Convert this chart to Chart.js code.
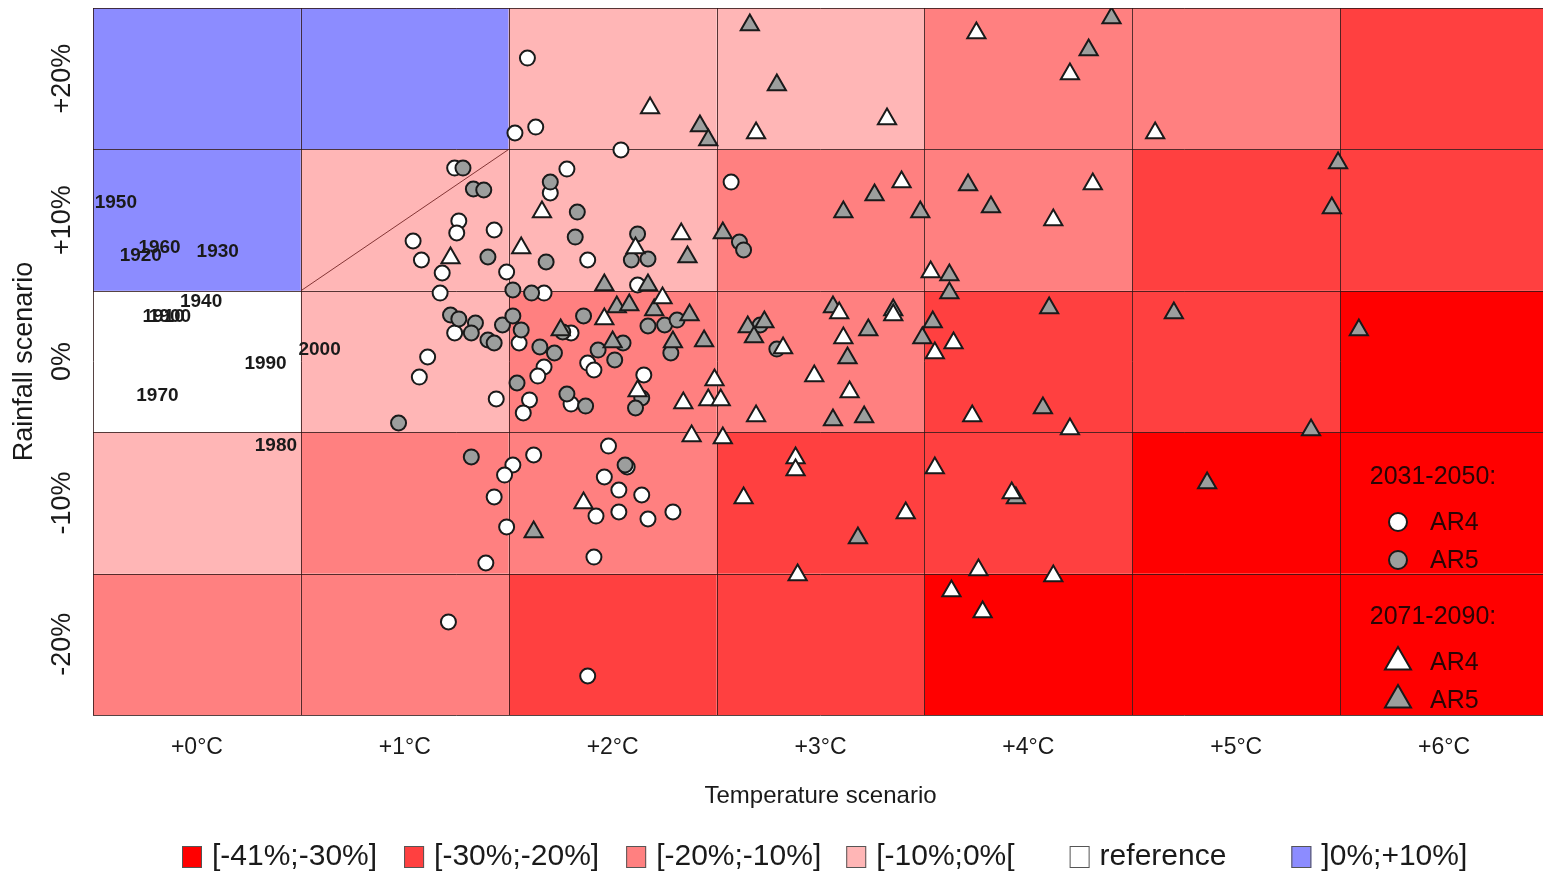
<!DOCTYPE html>
<html>
<head>
<meta charset="utf-8">
<script src="https://cdn.jsdelivr.net/npm/chart.js@4.4.0/dist/chart.umd.min.js"></script>
<style>
  html, body { margin: 0; padding: 0; background: #fff; overflow: hidden; }
  #wrap { width: 1548px; height: 877px; position: relative; }
</style>
</head>
<body>
<div id="wrap"><canvas id="chart"></canvas></div>
<script>
// axes
const tempSteps = [0, 1, 2, 3, 4, 5, 6];
const tempLabels = ['+0°C', '+1°C', '+2°C', '+3°C', '+4°C', '+5°C', '+6°C'];
const rainSteps = [-20, -10, 0, 10, 20];
const rainLabels = ['-20%', '-10%', '0%', '+10%', '+20%'];

// yield change class of each cell, rows follow rainSteps, columns follow tempSteps
const classLabels = ['[-41%;-30%]', '[-30%;-20%]', '[-20%;-10%]', '[-10%;0%[', 'reference', ']0%;+10%]'];
const classColors = ['#ff0000', '#ff4040', '#ff8080', '#ffb6b6', '#ffffff', '#8c8cff'];
const yieldClass = [
  [2, 2, 1, 1, 0, 0, 0],
  [3, 2, 2, 1, 1, 0, 0],
  [4, 3, 2, 2, 1, 1, 0],
  [5, 3, 3, 2, 2, 1, 1],
  [5, 5, 3, 3, 2, 2, 1]
];

// observed decades
const histYears = ['1950', '1920', '1960', '1930', '1940', '1910', '1900', '2000', '1990', '1970', '1980'];
const histTemp = [-0.39, -0.27, -0.18, 0.10, 0.02, -0.16, -0.13, 0.59, 0.33, -0.19, 0.38];
const histRain = [11.21, 7.46, 8.03, 7.74, 4.21, 3.15, 3.15, 0.81, -0.18, -2.44, -5.98];

// 2031-2050, AR4
const ar4NearTemp = [1.59, 1.63, 1.53, 2.04, 2.57, 1.78, 1.70, 1.88, 1.49, 1.67, 2.12, 1.24, 1.26, 1.25, 1.43, 1.04, 1.08,
  1.18, 1.17, 1.24, 1.55, 1.67, 1.64, 1.11, 1.07, 1.44, 1.60, 1.57, 1.80, 1.80, 1.88, 1.91, 2.15, 1.98, 1.62, 1.52, 1.48,
  2.07, 1.96, 2.03, 2.14, 1.92, 2.03, 2.17, 2.29, 1.49, 1.91, 1.88, 1.39, 1.43, 1.21];
const ar4NearRain = [21.46, 16.58, 16.16, 14.96, 12.69, 13.61, 11.92, 7.18, 6.33, 4.84, 5.41, 13.68, 9.94, 9.09, 9.30, 8.52,
  7.18, 6.26, 4.84, 2.02, 1.31, -0.39, -1.03, 0.32, -1.10, -2.65, -2.72, -3.64, -3.01, 2.02, -0.11, -0.60, -0.95, -5.98,
  -6.61, -7.32, -8.03, -7.46, -8.17, -9.09, -9.44, -10.93, -10.64, -11.14, -10.64, -11.70, -13.83, -22.24, -14.25, -9.58, -18.42];

// 2031-2050, AR5
const ar5NearTemp = [1.28, 1.33, 1.38, 1.70, 1.83, 1.82, 2.12, 2.09, 2.17, 1.68, 1.40, 1.52, 1.61, 2.61, 2.63, 1.22, 1.26,
  1.34, 1.32, 1.40, 1.43, 1.47, 1.52, 1.56, 1.65, 1.72, 1.54, 0.97, 1.32, 1.78, 1.87, 1.86, 1.76, 2.17, 2.25, 2.31, 2.05,
  2.28, 1.93, 2.01, 2.14, 2.11, 2.06, 2.79, 2.71];
const ar5NearRain = [13.68, 12.20, 12.13, 12.69, 10.57, 8.80, 9.02, 7.18, 7.25, 7.04, 7.39, 5.06, 4.84, 8.45, 7.89, 3.29,
  3.01, 2.72, 2.02, 1.52, 1.31, 2.58, 3.22, 2.23, 1.03, 0.60, -1.52, -4.35, -6.75, -2.30, -3.15, 3.22, 2.09, 2.51, 2.58,
  2.93, 1.31, 0.60, 0.81, 0.11, -2.58, -3.29, -7.32, 0.88, 2.58];

// 2071-2090, AR4
const ar4FarTemp = [2.18, 2.69, 3.32, 3.39, 1.66, 1.56, 1.22, 2.33, 3.53, 2.24, 1.96, 2.11, 2.12, 2.49, 2.46, 2.52, 2.34,
  2.38, 2.53, 2.69, 2.97, 3.14, 3.11, 3.09, 3.35, 3.55, 2.88, 2.88, 2.89, 2.63, 3.41, 3.55, 1.86, 3.75, 4.20, 4.61, 2.82,
  3.64, 3.73, 4.20, 3.92, 3.76, 3.63, 3.78, 4.12, 4.31, 4.12];
const ar4FarRain = [17.93, 16.16, 17.15, 12.69, 10.57, 8.03, 7.32, 9.02, 6.33, 4.49, 3.01, 8.03, -2.09, -1.31, -2.72,
  -2.72, -2.93, -5.27, -5.41, -3.85, -1.03, -2.16, 1.66, 3.43, 3.29, 0.60, -6.82, -7.67, -15.10, -9.65, -10.71, -7.53,
  -10.01, 23.23, 20.33, 16.16, 0.95, 1.31, -3.85, -4.77, -9.30, -14.75, -16.23, -17.72, -15.17, 12.55, 10.01];

// 2071-2090, AR5
const ar5FarTemp = [2.66, 2.79, 2.42, 2.46, 3.26, 3.11, 3.48, 2.53, 2.36, 1.96, 2.17, 2.02, 2.08, 2.20, 2.37, 1.75, 2.00,
  2.29, 2.44, 2.65, 2.68, 2.73, 3.06, 3.23, 3.35, 3.49, 3.54, 3.13, 3.06, 3.21, 3.18, 1.62, 4.40, 4.29, 5.49, 5.46, 3.71,
  3.82, 3.62, 3.62, 4.10, 4.70, 5.59, 4.07, 5.36, 4.86, 3.94];
const ar5FarRain = [23.80, 19.55, 16.65, 15.66, 11.77, 10.57, 10.57, 9.09, 7.39, 5.41, 5.41, 3.85, 4.00, 3.64, 3.29, 2.23,
  1.38, 1.38, 1.45, 2.44, 1.73, 2.79, 3.85, 2.23, 3.64, 1.66, 2.79, 0.25, -4.14, -3.93, -12.48, -12.06, 24.29, 22.03,
  14.04, 10.86, 12.48, 10.93, 6.12, 4.84, 3.78, 3.43, 2.23, -3.29, -4.84, -8.59, -9.65];

const FONT = 'Liberation Sans, Arial, sans-serif';
const WHITE = '#ffffff';
const GREY = '#9c9e9d';
const INK = '#1a1a1a';

const toPoints = (xs, ys) => xs.map((v, i) => ({ x: v, y: ys[i] }));

// coloured cells, cell borders and the diagonal in the +1°C / +10% cell
const cellPlugin = {
  id: 'cells',
  beforeDatasetsDraw(chart) {
    const { ctx, scales: { x, y } } = chart;
    ctx.save();
    rainSteps.forEach((r, i) => {
      tempSteps.forEach((t, j) => {
        const x0 = x.getPixelForValue(t - 0.5), x1 = x.getPixelForValue(t + 0.5);
        const y0 = y.getPixelForValue(r + 5), y1 = y.getPixelForValue(r - 5);
        ctx.fillStyle = classColors[yieldClass[i][j]];
        ctx.fillRect(x0, y0, x1 - x0, y1 - y0);
      });
    });
    ctx.strokeStyle = 'rgba(45,20,20,0.8)';
    ctx.lineWidth = 1;
    ctx.beginPath();
    tempSteps.concat([tempSteps[tempSteps.length - 1] + 1]).forEach(t => {
      const px = Math.round(x.getPixelForValue(t - 0.5)) + 0.5;
      ctx.moveTo(px, y.getPixelForValue(25));
      ctx.lineTo(px, y.getPixelForValue(-25));
    });
    rainSteps.concat([rainSteps[rainSteps.length - 1] + 10]).forEach(r => {
      const py = Math.round(y.getPixelForValue(r - 5)) + 0.5;
      ctx.moveTo(x.getPixelForValue(-0.5), py);
      ctx.lineTo(x.getPixelForValue(6.5), py);
    });
    ctx.stroke();
    ctx.strokeStyle = 'rgba(110,30,30,0.85)';
    ctx.beginPath();
    ctx.moveTo(x.getPixelForValue(0.5), y.getPixelForValue(5));
    ctx.lineTo(x.getPixelForValue(1.5), y.getPixelForValue(15));
    ctx.stroke();
    ctx.restore();
  },
  afterDatasetsDraw(chart) {
    const { ctx, scales: { x, y } } = chart;
    ctx.save();
    ctx.font = 'bold 19px ' + FONT;
    ctx.fillStyle = INK;
    ctx.textAlign = 'center';
    ctx.textBaseline = 'middle';
    histYears.forEach((yr, i) => {
      ctx.fillText(yr, x.getPixelForValue(histTemp[i]), y.getPixelForValue(histRain[i]));
    });
    ctx.restore();
  }
};

// rotated rainfall ticks and title on the left
const rainAxisPlugin = {
  id: 'rainAxis',
  afterDraw(chart) {
    const { ctx, chartArea, scales: { y } } = chart;
    ctx.save();
    ctx.fillStyle = INK;
    ctx.textAlign = 'center';
    ctx.textBaseline = 'middle';
    ctx.font = '27px ' + FONT;
    rainSteps.forEach((v, i) => {
      ctx.save();
      ctx.translate(chartArea.left - 30, y.getPixelForValue(v));
      ctx.rotate(-Math.PI / 2);
      ctx.fillText(rainLabels[i], 0, 0);
      ctx.restore();
    });
    ctx.translate(chartArea.left - 68, (chartArea.top + chartArea.bottom) / 2);
    ctx.rotate(-Math.PI / 2);
    ctx.fillText('Rainfall scenario', 0, 0);
    ctx.restore();
  }
};

// marker key in the lower right corner
const markerKeyPlugin = {
  id: 'markerKey',
  afterDatasetsDraw(chart) {
    const { ctx, chartArea } = chart;
    const r = chartArea.right, b = chartArea.bottom;
    const entries = [
      { head: '2031-2050:', y: b - 238 },
      { style: 'circle', radius: 9, fill: WHITE, text: 'AR4', y: b - 193 },
      { style: 'circle', radius: 9, fill: GREY, text: 'AR5', y: b - 155 },
      { head: '2071-2090:', y: b - 98 },
      { style: 'triangle', radius: 15, fill: WHITE, text: 'AR4', y: b - 53 },
      { style: 'triangle', radius: 15, fill: GREY, text: 'AR5', y: b - 15 }
    ];
    ctx.save();
    ctx.font = '25px ' + FONT;
    ctx.textBaseline = 'middle';
    entries.forEach(e => {
      ctx.fillStyle = '#2a0505';
      if (e.head) {
        ctx.textAlign = 'center';
        ctx.fillText(e.head, r - 115, e.y);
        return;
      }
      ctx.textAlign = 'left';
      ctx.fillText(e.text, r - 118, e.y + 1);
      ctx.fillStyle = e.fill;
      ctx.strokeStyle = INK;
      ctx.lineWidth = 2;
      Chart.helpers.drawPoint(ctx, { pointStyle: e.style, radius: e.radius, rotation: 0, borderWidth: 2 }, r - 150, e.y);
    });
    ctx.restore();
  }
};

// colour key below the axis title
const classKeyPlugin = {
  id: 'classKey',
  afterDraw(chart) {
    const { ctx } = chart;
    const gaps = [27, 27, 25, 55, 65, 0];
    const cy = 857;
    let cx = 182;
    ctx.save();
    ctx.font = '30px ' + FONT;
    ctx.textBaseline = 'middle';
    ctx.textAlign = 'left';
    classLabels.forEach((lab, i) => {
      ctx.fillStyle = classColors[i];
      ctx.fillRect(cx, cy - 11, 20, 22);
      ctx.strokeStyle = '#555';
      ctx.lineWidth = 1;
      ctx.strokeRect(cx + 0.5, cy - 10.5, 19, 21);
      ctx.fillStyle = INK;
      ctx.fillText(lab, cx + 30, cy);
      cx += 30 + ctx.measureText(lab).width + gaps[i];
    });
    ctx.restore();
  }
};

const markerBase = { borderColor: INK, borderWidth: 2, showLine: false };

new Chart(document.getElementById('chart'), {
  type: 'scatter',
  data: {
    datasets: [
      { ...markerBase, label: 'AR4 2031-2050', data: toPoints(ar4NearTemp, ar4NearRain), pointStyle: 'circle',
        pointRadius: 7.5, backgroundColor: WHITE, order: 3 },
      { ...markerBase, label: 'AR5 2031-2050', data: toPoints(ar5NearTemp, ar5NearRain), pointStyle: 'circle',
        pointRadius: 7.5, backgroundColor: GREY, order: 2 },
      { ...markerBase, label: 'AR5 2071-2090', data: toPoints(ar5FarTemp, ar5FarRain), pointStyle: 'triangle',
        pointRadius: 10.5, backgroundColor: GREY, order: 1 },
      { ...markerBase, label: 'AR4 2071-2090', data: toPoints(ar4FarTemp, ar4FarRain), pointStyle: 'triangle',
        pointRadius: 10.5, backgroundColor: WHITE, order: 0 }
    ]
  },
  options: {
    responsive: true,
    maintainAspectRatio: false,
    animation: false,
    layout: { autoPadding: false, padding: { left: 93, top: 8, right: 0, bottom: 0 } },
    plugins: {
      legend: { display: false },
      tooltip: { enabled: false }
    },
    scales: {
      x: {
        type: 'linear',
        min: -0.5,
        max: 6.5,
        afterBuildTicks: s => { s.ticks = tempSteps.map(v => ({ value: v })); },
        afterFit: s => { s.height = 162; },
        grid: { display: false, drawTicks: false },
        border: { display: false },
        ticks: {
          padding: 19,
          color: INK,
          font: { family: FONT, size: 23 },
          callback: v => tempLabels[tempSteps.indexOf(v)]
        },
        title: {
          display: true,
          text: 'Temperature scenario',
          color: INK,
          font: { family: FONT, size: 24 },
          padding: { top: 0, bottom: 66 }
        }
      },
      y: {
        type: 'linear',
        display: false,
        min: -25,
        max: 25
      }
    }
  },
  plugins: [cellPlugin, rainAxisPlugin, markerKeyPlugin, classKeyPlugin]
});
</script>
</body>
</html>
